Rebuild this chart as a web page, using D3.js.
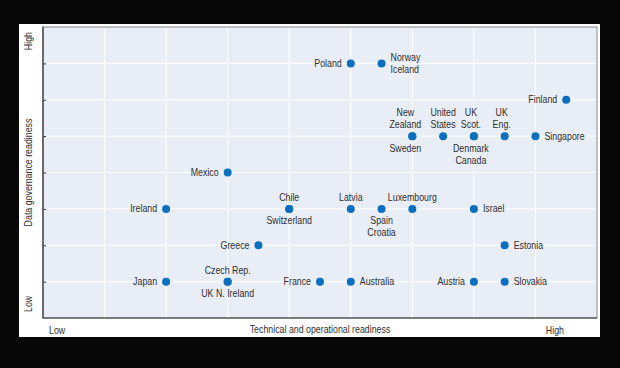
<!DOCTYPE html>
<html>
<head>
<meta charset="utf-8">
<script src="https://cdn.jsdelivr.net/npm/d3@7"></script>
<style>
  body { margin: 0; background: #080808; }
  text { font-family: "Liberation Sans Narrow", "Arial Narrow", "Liberation Sans", sans-serif; }
</style>
</head>
<body>
<script>
// -------------------------------------- data
var countries = ["Poland", "Norway\nIceland", "Finland", "New\nZealand", "Sweden", "United\nStates",
  "UK\nScot.", "Denmark\nCanada", "UK\nEng.", "Singapore", "Mexico", "Ireland", "Chile", "Switzerland",
  "Latvia", "Spain\nCroatia", "Luxembourg", "Israel", "Greece", "Estonia", "Japan", "Czech Rep.",
  "UK N. Ireland", "France", "Australia", "Austria", "Slovakia"];
var technical = [10, 11, 17, 12, 12, 13, 14, 14, 15, 16, 6, 4, 8, 8, 10, 11, 12, 14, 7, 15, 4, 6, 6, 9, 10, 14, 15];
var governance = [7, 7, 6, 5, 5, 5, 5, 5, 5, 5, 4, 3, 3, 3, 3, 3, 3, 3, 2, 2, 1, 1, 1, 1, 1, 1, 1];
// where the name sits relative to its dot ("L" = nudged a bit to the left)
var labelSide = ["left", "right", "left", "aboveL", "belowL", "above", "aboveL", "belowL", "aboveL", "right",
  "left", "left", "above", "below", "above", "below", "above", "right", "left", "right", "left", "above",
  "below", "left", "right", "left", "right"];

var xTicks = [2, 4, 6, 8, 10, 12, 14, 16];
var yTicks = [1, 2, 3, 4, 5, 6, 7];

var back_color = "#080808";
var plot_color = "#e9edf6";
var dot_color = "#0a6fbe";
var text_color = "#2e2e2e";

// no narrow font on the box, so squeeze the regular one
var squeeze = 0.84;

var rows = countries.map(function (c, i) {
  return { name: c, x: technical[i], y: governance[i], side: labelSide[i] };
});

// -------------------------------------- svg board
var svg = d3.select("body").append("svg")
  .attr("width", 620)
  .attr("height", 368)
  .style("display", "block")
  .style("background", back_color);

svg.append("rect")
  .attr("x", 19).attr("y", 24)
  .attr("width", 581).attr("height", 313)
  .attr("fill", "white");

var plot = { left: 43, right: 597, top: 27, bottom: 318 };

var x = d3.scaleLinear().domain([0, 18]).range([plot.left, plot.right]);
var y = d3.scaleLinear().domain([0, 8]).range([plot.bottom, plot.top]);

// plot area
svg.append("rect")
  .attr("x", plot.left).attr("y", plot.top)
  .attr("width", plot.right - plot.left).attr("height", plot.bottom - plot.top)
  .attr("fill", plot_color)
  .attr("stroke", "#8a8a8a")
  .attr("stroke-width", 1);

// grid
svg.selectAll("line.vgrid")
  .data(xTicks)
  .enter().append("line")
  .attr("class", "vgrid")
  .attr("x1", function (d) { return x(d); })
  .attr("x2", function (d) { return x(d); })
  .attr("y1", plot.top + 1).attr("y2", plot.bottom)
  .attr("stroke", "white").attr("stroke-width", 1);

svg.selectAll("line.hgrid")
  .data(yTicks)
  .enter().append("line")
  .attr("class", "hgrid")
  .attr("x1", plot.left).attr("x2", plot.right - 1)
  .attr("y1", function (d) { return y(d); })
  .attr("y2", function (d) { return y(d); })
  .attr("stroke", "white").attr("stroke-width", 1);

// axes (ticks pointing inward on y)
svg.append("g")
  .attr("transform", "translate(" + plot.left + ",0)")
  .call(d3.axisRight(y).tickValues(yTicks).tickSize(3).tickFormat(""))
  .call(function (g) {
    g.select(".domain").remove();
    g.selectAll(".tick line").attr("stroke", "#333");
  });

svg.append("line")
  .attr("x1", plot.left).attr("x2", plot.left)
  .attr("y1", plot.top - 0.5).attr("y2", plot.bottom + 0.5)
  .attr("stroke", "#333").attr("stroke-width", 1.2);

svg.append("line")
  .attr("x1", plot.left).attr("x2", plot.right)
  .attr("y1", plot.bottom).attr("y2", plot.bottom)
  .attr("stroke", "#333").attr("stroke-width", 1.2);

// axis titles
function addText(str, tx, ty, anchor, rot) {
  return svg.append("text").text(str)
    .attr("transform", "translate(" + tx + "," + ty + ")" + (rot ? " rotate(-90)" : "") + " scale(" + squeeze + ",1)")
    .attr("text-anchor", anchor)
    .attr("font-size", 10.5)
    .attr("fill", text_color);
}
addText("Low", 49, 334, "start");
addText("High", 564, 334, "end");
addText("Technical and operational readiness", (plot.left + plot.right) / 2, 333, "middle");
addText("High", 32, 32, "end", true);
addText("Low", 32, 312, "start", true);
addText("Data governance readiness", 32, (plot.top + plot.bottom) / 2, "middle", true);

// dots
svg.selectAll("circle.dot")
  .data(rows)
  .enter().append("circle")
  .attr("class", "dot")
  .attr("cx", function (d) { return x(d.x); })
  .attr("cy", function (d) { return y(d.y); })
  .attr("r", 4)
  .attr("fill", dot_color);

// labels
var lineH = 12;
svg.selectAll("text.label")
  .data(rows)
  .enter().append("text")
  .attr("class", "label")
  .attr("font-size", 10.5)
  .attr("fill", text_color)
  .attr("text-anchor", function (d) {
    return d.side == "left" ? "end" : d.side == "right" ? "start" : "middle";
  })
  .attr("transform", function (d) {
    var n = d.name.split("\n").length;
    var cx = x(d.x), cy = y(d.y);
    var tx = cx, ty;
    var side = d.side.replace("L", "");
    if (d.side != side) tx = cx - (d.x == 12 ? 7 : 3);
    if (side == "left") { tx = cx - 9; ty = cy + 3.5 - (n - 1) * lineH / 2; }
    else if (side == "right") { tx = cx + 9; ty = cy + 3.5 - (n - 1) * lineH / 2; }
    else if (side == "above") { ty = cy - 8 - (n - 1) * lineH; }
    else { ty = cy + 15.5; }
    return "translate(" + tx + "," + ty + ") scale(" + squeeze + ",1)";
  })
  .each(function (d) {
    d3.select(this).selectAll("tspan")
      .data(d.name.split("\n"))
      .enter().append("tspan")
      .attr("x", 0)
      .attr("y", function (l, i) { return i * lineH; })
      .text(function (l) { return l; });
  });
</script>
</body>
</html>
